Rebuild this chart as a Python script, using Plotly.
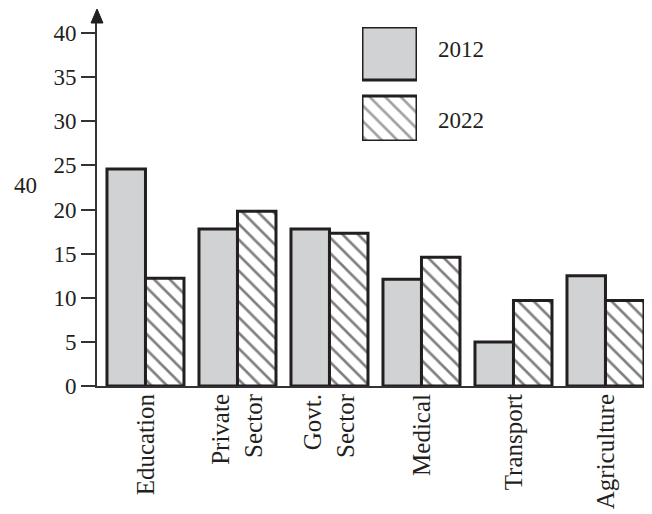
import plotly.graph_objects as go

categories = ["Education", "Private<br>Sector", "Govt.<br>Sector", "Medical", "Transport", "Agriculture"]
values_2012 = [24.6, 17.8, 17.8, 12.1, 5.0, 12.5]
values_2022 = [12.2, 19.8, 17.3, 14.6, 9.7, 9.7]
series_names = ["2012", "2022"]
y_ticks = [0, 5, 10, 15, 20, 25, 30, 35, 40]

INK = "#231f20"
GREY = "#d1d2d4"
FONT = "Liberation Serif"

OFF = 8  # page body margin
W, H = 652, 514
# screen positions in the reference
AX_L, AX_B, AX_T = 97, 386, 20
ML = AX_L - OFF
MT = AX_T - OFF
MB = H - (AX_B - OFF)
MR = 0
PW, PH = W - ML - MR, H - MT - MB


def px(x):
    return (x - OFF - ML) / PW


def py(y):
    return (AX_B - y) / PH


HATCH = dict(shape="\\", fgcolor="#000000", bgcolor="white", size=11, solidity=0.24)

fig = go.Figure()
fig.add_trace(go.Bar(
    x=categories, y=values_2012, name=series_names[0],
    marker=dict(color=GREY, line=dict(color=INK, width=3)),
    showlegend=False,
))
fig.add_trace(go.Bar(
    x=categories, y=values_2022, name=series_names[1],
    marker=dict(color="white", line=dict(color=INK, width=3), pattern=HATCH),
    showlegend=False,
))

# legend swatches drawn as bars on a small hidden axis
fig.add_trace(go.Bar(
    x=[0, 0], y=[53, 45], base=[61, 0], width=[1, 1],
    xaxis="x2", yaxis="y2", showlegend=False, hoverinfo="skip",
    marker=dict(color=[GREY, "white"], line=dict(color=INK, width=3),
                pattern=dict(HATCH, shape=["", "\\"])),
))

fig.update_layout(
    width=W, height=H,
    margin=dict(l=ML, r=MR, t=MT, b=MB),
    paper_bgcolor="white", plot_bgcolor="white",
    barmode="group", bargap=0.163, bargroupgap=0,
    font=dict(family=FONT, color=INK),
    xaxis=dict(
        range=[-0.527, -0.527 + PW / 92.0], showline=True, linecolor="#333", linewidth=2,
        showgrid=False, zeroline=False, ticks="", tickangle=-90, ticklabelstandoff=-4,
        tickfont=dict(size=25, family=FONT, color=INK),
    ),
    yaxis=dict(
        range=[0, PH / 8.825], tickvals=y_ticks, showline=True, linecolor="#333", linewidth=2,
        showgrid=False, zeroline=False, ticks="outside", ticklen=14, tickwidth=2, tickcolor="#333",
        tickfont=dict(size=23, family=FONT, color=INK),
    ),
    xaxis2=dict(domain=[px(362), px(417)], range=[-0.5, 0.5], visible=False, anchor="y2"),
    yaxis2=dict(domain=[py(141), py(27)], range=[0, 114], visible=False, anchor="x2"),
    shapes=[
        dict(type="path", xref="paper", yref="paper",
             path=f"M {px(97)} {py(9)} L {px(91)} {py(23)} L {px(103)} {py(23)} Z",
             fillcolor=INK, line=dict(color=INK, width=1)),
    ],
    annotations=[
        dict(text=series_names[0], xref="paper", yref="paper", x=px(436), y=py(50),
             xanchor="left", yanchor="middle", showarrow=False, font=dict(size=23, family=FONT, color=INK)),
        dict(text=series_names[1], xref="paper", yref="paper", x=px(436), y=py(121),
             xanchor="left", yanchor="middle", showarrow=False, font=dict(size=23, family=FONT, color=INK)),
        dict(text="40", xref="paper", yref="paper", x=px(12), y=py(186),
             xanchor="left", yanchor="middle", showarrow=False, font=dict(size=23, family=FONT, color=INK)),
    ],
)

fig.write_html("out.html")
